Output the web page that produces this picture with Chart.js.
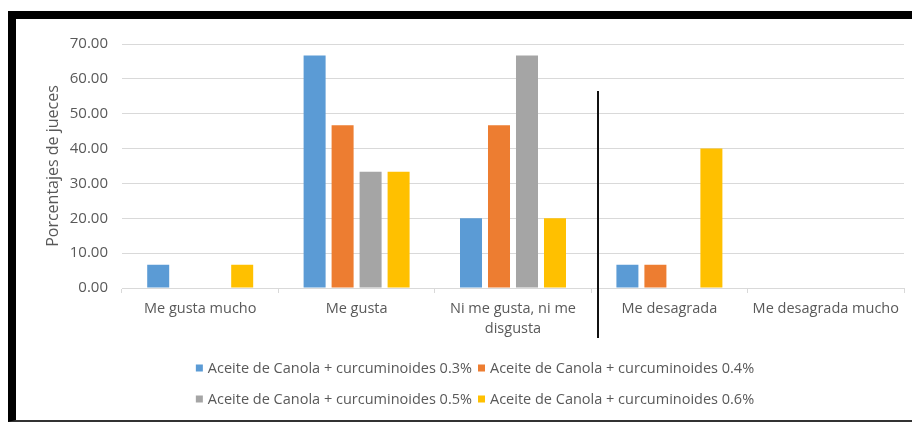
<!DOCTYPE html>
<html>
<head>
<meta charset="utf-8">
<script src="https://cdn.jsdelivr.net/npm/chart.js@4/dist/chart.umd.min.js"></script>
<style>
  html, body { margin: 0; padding: 0; background: #fff; }
  body { width: 912px; height: 422px; position: relative; overflow: hidden; }
  .frame {
    position: absolute; left: 8px; top: 11px; width: 904px; height: 411px;
    box-sizing: border-box;
    border-top: 8px solid #000; border-left: 8px solid #000; border-bottom: 2px solid #333;
  }
  .wrap { position: absolute; left: 16px; top: 19px; width: 896px; height: 401px; }
  .mark { position: absolute; left: 597px; top: 91px; width: 1.5px; height: 247px; background: #111; }
</style>
</head>
<body>
<div class="frame"></div>
<div class="wrap"><canvas id="chart"></canvas></div>
<div class="mark"></div>
<script>
'use strict';

const categories = ['Me gusta mucho', 'Me gusta', ['Ni me gusta, ni me', 'disgusta'], 'Me desagrada', 'Me desagrada mucho'];
const seriesNames = [
  'Aceite de Canola + curcuminoides 0.3%',
  'Aceite de Canola + curcuminoides 0.4%',
  'Aceite de Canola + curcuminoides 0.5%',
  'Aceite de Canola + curcuminoides 0.6%'
];
const values03 = [6.67, 66.67, 20.00, 6.67, 0];
const values04 = [0, 46.67, 46.67, 6.67, 0];
const values05 = [0, 33.33, 66.67, 0, 0];
const values06 = [6.67, 33.33, 20.00, 40.00, 0];
const colors = ['#5B9BD5', '#ED7D31', '#A5A5A5', '#FFC000'];
const yMin = 0, yMax = 70, yStep = 10;

const FONT = "'Open Sans', sans-serif";
const TEXT = '#595959';

// leyenda en dos filas, como en el original
const legendRows = {
  id: 'legendRows',
  afterDraw(chart) {
    const ctx = chart.ctx;
    const sets = chart.data.datasets;
    const rows = [[0, 1], [2, 3]];
    const rowY = [349, 380];
    const box = 7, gap = 5, itemGap = 6, cx = 459;
    ctx.save();
    ctx.font = '14.5px ' + FONT;
    ctx.textBaseline = 'middle';
    rows.forEach((row, r) => {
      const widths = row.map(i => box + gap + ctx.measureText(sets[i].label).width);
      const total = widths.reduce((a, b) => a + b, 0) + itemGap * (row.length - 1);
      let x = cx - total / 2;
      row.forEach((i, k) => {
        ctx.fillStyle = sets[i].backgroundColor;
        ctx.fillRect(x, rowY[r] - box / 2, box, box);
        ctx.fillStyle = TEXT;
        ctx.fillText(sets[i].label, x + box + gap, rowY[r] + 0.5);
        x += widths[k] + itemGap;
      });
    });
    ctx.restore();
  }
};

new Chart(document.getElementById('chart'), {
  type: 'bar',
  data: {
    labels: categories,
    datasets: [values03, values04, values05, values06].map((d, i) => ({
      label: seriesNames[i],
      data: d,
      backgroundColor: colors[i],
      categoryPercentage: 0.716,
      barPercentage: 0.786
    }))
  },
  options: {
    responsive: true,
    maintainAspectRatio: false,
    animation: false,
    layout: { padding: { left: 0, right: 8, top: 25, bottom: 0 } },
    plugins: {
      legend: { display: false },
      tooltip: { enabled: false }
    },
    scales: {
      x: {
        grid: { drawOnChartArea: false, drawTicks: true, tickLength: 5, color: '#D9D9D9' },
        border: { color: '#D9D9D9' },
        ticks: { color: TEXT, font: { family: FONT, size: 14.5, lineHeight: 1.38 }, padding: 6, maxRotation: 0, autoSkip: false },
        afterFit: s => { s.height = 132; }
      },
      y: {
        min: yMin, max: yMax,
        grid: { color: '#D9D9D9', drawTicks: false },
        border: { display: false },
        ticks: { stepSize: yStep, color: TEXT, font: { family: FONT, size: 15 }, padding: 14, callback: v => v.toFixed(2) },
        title: { display: true, text: 'Porcentajes de jueces', color: TEXT, font: { family: FONT, size: 16 }, padding: { top: 28, bottom: 0 } },
        afterFit: s => { s.width = 106; }
      }
    }
  },
  plugins: [legendRows]
});
</script>
</body>
</html>
